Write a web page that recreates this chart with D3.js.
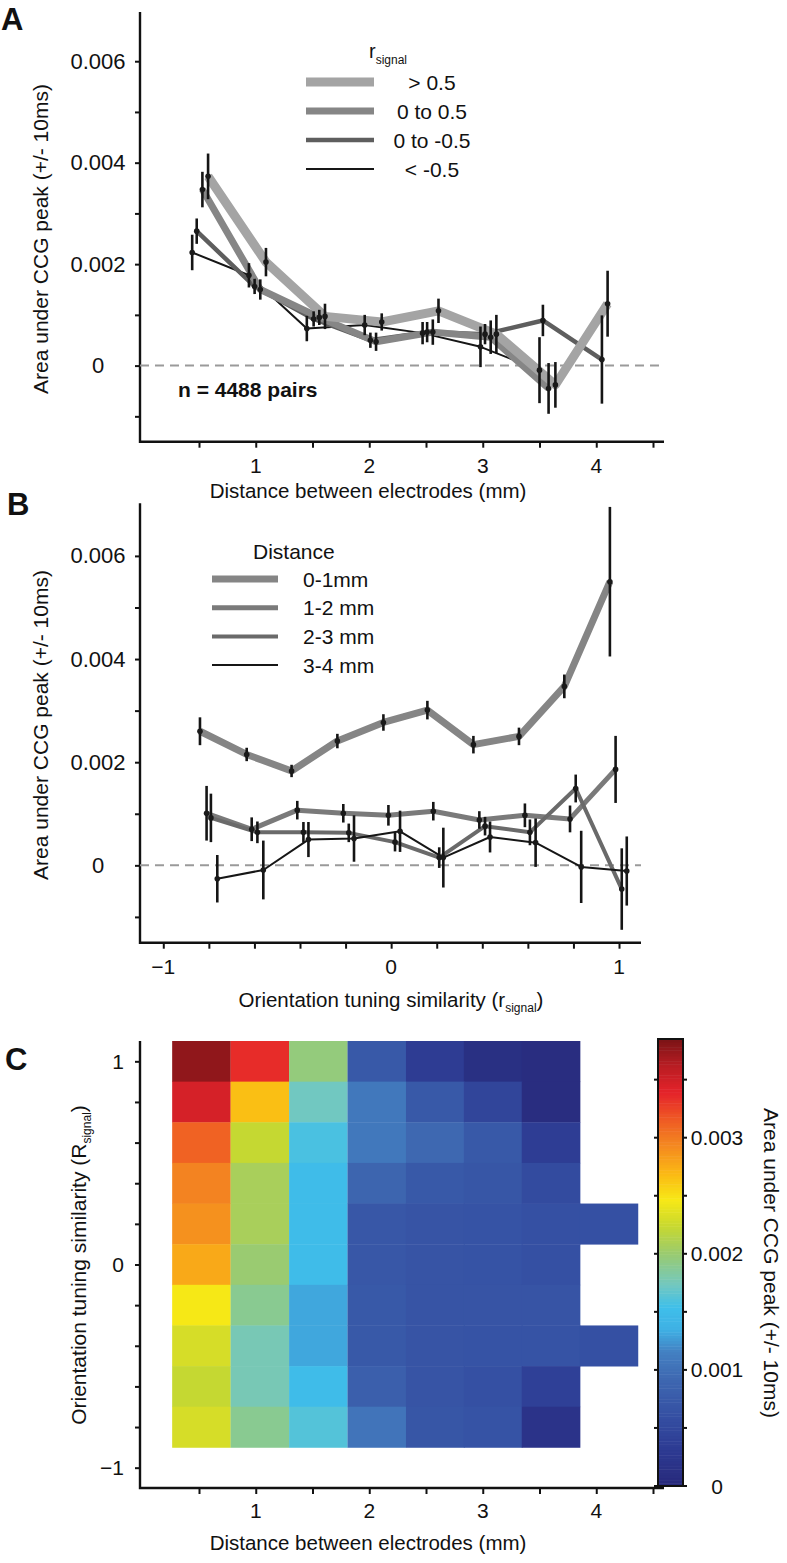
<!DOCTYPE html>
<html><head><meta charset="utf-8">
<script src="https://cdn.jsdelivr.net/npm/d3@7"></script>
<style>
body{margin:0;background:#fff}
svg text{font-family:"Liberation Sans",Arial,Helvetica,sans-serif;fill:#111}
</style>
</head><body>
<svg id="c" width="787" height="1563"></svg>
<script>
// ================= DATA =================
// Panel A: area under CCG peak vs distance, by r_signal group (values x1e-3)
const legendA = ["> 0.5", "0 to 0.5", "0 to -0.5", "< -0.5"];
const aGt05X = [0.58, 1.09, 1.61, 2.11, 2.61, 3.12, 3.64, 4.10];
const aGt05Y = [3.73, 2.04, 0.97, 0.86, 1.08, 0.62, -0.38, 1.22];
const aGt05E = [0.45, 0.28, 0.25, 0.17, 0.24, 0.38, 0.45, 0.65];
const a0to05X = [0.53, 1.04, 1.56, 2.06, 2.56, 3.07, 3.58];
const a0to05Y = [3.47, 1.50, 0.95, 0.47, 0.66, 0.56, -0.45];
const a0to05E = [0.35, 0.20, 0.15, 0.18, 0.25, 0.33, 0.50];
const a0toM05X = [0.48, 0.99, 1.51, 2.01, 2.51, 3.02, 3.53, 4.05];
const a0toM05Y = [2.65, 1.56, 0.92, 0.50, 0.66, 0.62, 0.89, 0.12];
const a0toM05E = [0.25, 0.15, 0.15, 0.15, 0.20, 0.20, 0.31, 0.87];
const aLtM05X = [0.44, 0.94, 1.45, 1.96, 2.47, 2.98, 3.50];
const aLtM05Y = [2.23, 1.78, 0.73, 0.80, 0.64, 0.37, -0.09];
const aLtM05E = [0.35, 0.24, 0.25, 0.20, 0.22, 0.40, 0.65];

// Panel B: area under CCG peak vs r_signal, by distance group (values x1e-3)
const legendB = ["0-1mm", "1-2 mm", "2-3 mm", "3-4 mm"];
const b01X = [-0.839, -0.634, -0.437, -0.236, -0.034, 0.159, 0.361, 0.561, 0.760, 0.960];
const b01Y = [2.60, 2.15, 1.83, 2.41, 2.77, 3.01, 2.34, 2.50, 3.47, 5.50];
const b01E = [0.27, 0.13, 0.12, 0.14, 0.16, 0.18, 0.17, 0.17, 0.23, 1.45];
const b12X = [-0.810, -0.612, -0.412, -0.210, -0.012, 0.185, 0.387, 0.587, 0.785, 0.985];
const b12Y = [1.01, 0.70, 1.07, 1.01, 0.97, 1.05, 0.88, 0.97, 0.90, 1.86];
const b12E = [0.53, 0.23, 0.18, 0.18, 0.20, 0.18, 0.17, 0.23, 0.26, 0.65];
const b23X = [-0.791, -0.587, -0.385, -0.186, 0.017, 0.211, 0.412, 0.609, 0.810, 1.012];
const b23Y = [0.92, 0.64, 0.64, 0.63, 0.45, 0.15, 0.76, 0.64, 1.49, -0.46];
const b23E = [0.47, 0.21, 0.20, 0.18, 0.18, 0.20, 0.18, 0.25, 0.27, 0.79];
const b34X = [-0.763, -0.561, -0.363, -0.163, 0.039, 0.229, 0.434, 0.634, 0.834, 1.034];
const b34Y = [-0.26, -0.09, 0.50, 0.52, 0.66, 0.15, 0.55, 0.44, -0.03, -0.11];
const b34E = [0.46, 0.57, 0.34, 0.45, 0.40, 0.58, 0.30, 0.47, 0.70, 0.67];

// Panel C: heatmap (rows = r_signal bins, cols = distance bins), values x1e-3
const cDist = [0.52, 1.035, 1.55, 2.065, 2.58, 3.09, 3.60, 4.11];
const cRsig = [1.0, 0.8, 0.6, 0.4, 0.2, 0.0, -0.2, -0.4, -0.6, -0.8];
const cValues = [
  [3.77, 3.35, 1.96, 0.73, 0.33, 0.12, 0.08, null],
  [3.47, 2.66, 1.73, 1.08, 0.73, 0.46, 0.08, null],
  [3.12, 2.23, 1.58, 1.08, 0.92, 0.73, 0.35, null],
  [2.96, 2.08, 1.50, 0.89, 0.73, 0.69, 0.54, null],
  [2.89, 2.08, 1.50, 0.71, 0.67, 0.65, 0.62, 0.62],
  [2.77, 2.00, 1.50, 0.71, 0.67, 0.65, 0.62, null],
  [2.46, 1.89, 1.31, 0.73, 0.67, 0.67, 0.67, null],
  [2.31, 1.77, 1.31, 0.73, 0.67, 0.65, 0.65, 0.62],
  [2.23, 1.77, 1.50, 0.81, 0.67, 0.62, 0.39, null],
  [2.31, 1.89, 1.62, 1.04, 0.69, 0.65, 0.19, null]
];
const colorbarMax = 3.85; // x1e-3

// Tick labels
const yTicksAB = [0, 2, 4, 6];            // x1e-3, labelled
const yTickLabelsAB = ["0", "0.002", "0.004", "0.006"];
const xTicksDist = [1, 2, 3, 4];
const xTicksR = [-1, 0, 1];
const xTickLabelsR = ["\u22121", "0", "1"];
const yTicksC = [-1, 0, 1];
const yTickLabelsC = ["\u22121", "0", "1"];
const cbTicks = [0, 1, 2, 3];
const cbTickLabels = ["0", "0.001", "0.002", "0.003"];

// ================= STYLES =================
const stylesA = [
  {c: "#a4a4a4", w: 9},
  {c: "#868686", w: 7},
  {c: "#5e5e5e", w: 4.5},
  {c: "#161616", w: 2}
];
const stylesB = [
  {c: "#858585", w: 7},
  {c: "#7a7a7a", w: 5},
  {c: "#6a6a6a", w: 4},
  {c: "#161616", w: 2}
];
// jet-like map sampled from the printed colorbar
const cmapStops = [
  [0.00, "#27297a"], [0.08, "#2d3a92"], [0.16, "#3550a3"], [0.24, "#3e68b1"],
  [0.30, "#4380c2"], [0.35, "#3fb0e4"], [0.40, "#3fbfea"], [0.45, "#72c8c0"],
  [0.52, "#9acb70"], [0.58, "#c6d831"], [0.64, "#f7e816"], [0.70, "#fbb814"],
  [0.76, "#f48a20"], [0.82, "#ef5a24"], [0.88, "#e5232a"], [0.94, "#b91d23"],
  [1.00, "#7a1416"]
];

const svg = d3.select("#c");
const FS = 21;
const zip = (X, Y, E) => X.map((x, i) => ({x: x, y: Y[i] / 1000, e: E[i] / 1000}));

// ================= PANEL A =================
const xA = d3.scaleLinear().domain([0, 4.6]).range([142.25, 664.35]);
const yA = d3.scaleLinear().domain([-0.0015, 0.00697]).range([441.7, 12]);
const gA = svg.append("g");

function drawAxesLineChart(g, x, y, xLeft, xRight, yTop, yBottom, xTickVals, xLabelVals, xLabelTexts) {
  const yAx = d3.axisLeft(y).tickValues(d3.range(-0.001, 0.00601, 0.001)).tickSize(5).tickFormat("");
  g.append("g").attr("transform", `translate(${xLeft},0)`).call(yAx)
    .call(s => s.select(".domain").remove())
    .call(s => s.selectAll("line").attr("stroke", "#111").attr("stroke-width", 2));
  yTicksAB.forEach((v, i) => {
    g.append("text").attr("x", 98).attr("y", y(v / 1000) + 7.5)
      .attr("text-anchor", "middle").attr("font-size", 22).text(yTickLabelsAB[i]);
  });
  const xAx = d3.axisBottom(x).tickValues(xTickVals).tickSize(6).tickFormat("");
  g.append("g").attr("transform", `translate(0,${yBottom})`).call(xAx)
    .call(s => s.select(".domain").remove())
    .call(s => s.selectAll("line").attr("stroke", "#111").attr("stroke-width", 2));
  xLabelVals.forEach((v, i) => {
    g.append("text").attr("x", x(v)).attr("y", yBottom + 31)
      .attr("text-anchor", "middle").attr("font-size", FS).text(xLabelTexts[i]);
  });
  g.append("path").attr("d", `M${xLeft},${yTop}V${yBottom}H${xRight}`)
    .attr("fill", "none").attr("stroke", "#111").attr("stroke-width", 2.4);
}

drawAxesLineChart(gA, xA, yA, 140, 664, 12, 441.7,
  d3.range(0.5, 4.51, 0.5), xTicksDist, xTicksDist.map(String));

gA.append("line").attr("x1", 140).attr("x2", 664).attr("y1", yA(0)).attr("y2", yA(0))
  .attr("stroke", "#9a9a9a").attr("stroke-width", 2).attr("stroke-dasharray", "9,6");

const seriesA = [
  zip(aGt05X, aGt05Y, aGt05E),
  zip(a0to05X, a0to05Y, a0to05E),
  zip(a0toM05X, a0toM05Y, a0toM05E),
  zip(aLtM05X, aLtM05Y, aLtM05E)
];

function drawBarsDots(g, x, y, series) {
  series.forEach(s => {
    g.selectAll(null).data(s).enter().append("line")
      .attr("x1", d => x(d.x)).attr("x2", d => x(d.x))
      .attr("y1", d => y(d.y - d.e)).attr("y2", d => y(d.y + d.e))
      .attr("stroke", "#151515").attr("stroke-width", 2.6);
  });
  series.forEach(s => {
    g.selectAll(null).data(s).enter().append("circle")
      .attr("cx", d => x(d.x)).attr("cy", d => y(d.y)).attr("r", 2.8).attr("fill", "#1a1a1a");
  });
}
function drawLines(g, x, y, series, styles, order) {
  const line = d3.line().x(d => x(d.x)).y(d => y(d.y));
  order.forEach(i => {
    g.append("path").datum(series[i]).attr("d", line)
      .attr("fill", "none").attr("stroke", styles[i].c).attr("stroke-width", styles[i].w)
      .attr("stroke-linejoin", "round");
  });
}
drawLines(gA, xA, yA, seriesA, stylesA, [3, 2, 1, 0]);
drawBarsDots(gA, xA, yA, seriesA);

// Legend A
const legA = gA.append("g");
legA.append("text").attr("x", 369).attr("y", 58).attr("font-size", 20)
  .text("r").append("tspan").attr("font-size", 12).attr("dy", 6).text("signal");
legendA.forEach((t, i) => {
  const ly = 82 + i * 29;
  legA.append("line").attr("x1", 306).attr("x2", 374).attr("y1", ly).attr("y2", ly)
    .attr("stroke", stylesA[i].c).attr("stroke-width", stylesA[i].w);
  legA.append("text").attr("x", 432).attr("y", ly + 7.5).attr("text-anchor", "middle")
    .attr("font-size", FS).text(t);
});
gA.append("text").attr("x", 178).attr("y", 397).attr("font-size", FS).attr("font-weight", "bold")
  .text("n = 4488 pairs");
gA.append("text").attr("x", 368).attr("y", 498).attr("text-anchor", "middle").attr("font-size", 20.5)
  .text("Distance between electrodes (mm)");
gA.append("text").attr("transform", "translate(47.5,239) rotate(-90)").attr("text-anchor", "middle")
  .attr("font-size", FS).text("Area under CCG peak (+/- 10ms)");
gA.append("text").attr("x", 1).attr("y", 30).attr("font-size", 31).attr("font-weight", "bold").text("A");

// ================= PANEL B =================
const xB = d3.scaleLinear().domain([-1.1, 1.1]).range([140.5, 641.8]);
const yB = d3.scaleLinear().domain([-0.0015, 0.00702]).range([942.7, 503.3]);
const gB = svg.append("g");
drawAxesLineChart(gB, xB, yB, 140, 641, 503.3, 942.7,
  d3.range(-1, 1.001, 0.2), xTicksR, xTickLabelsR);
gB.append("line").attr("x1", 140).attr("x2", 641).attr("y1", yB(0)).attr("y2", yB(0))
  .attr("stroke", "#9a9a9a").attr("stroke-width", 2).attr("stroke-dasharray", "9,6");
const seriesB = [
  zip(b01X, b01Y, b01E),
  zip(b12X, b12Y, b12E),
  zip(b23X, b23Y, b23E),
  zip(b34X, b34Y, b34E)
];
drawLines(gB, xB, yB, seriesB, stylesB, [0, 1, 2, 3]);
drawBarsDots(gB, xB, yB, seriesB);
const legB = gB.append("g");
legB.append("text").attr("x", 253).attr("y", 559).attr("font-size", FS).text("Distance");
legendB.forEach((t, i) => {
  const ly = 579 + i * 28.7;
  legB.append("line").attr("x1", 212).attr("x2", 278).attr("y1", ly).attr("y2", ly)
    .attr("stroke", stylesB[i].c).attr("stroke-width", stylesB[i].w);
  legB.append("text").attr("x", 303).attr("y", ly + 7.5).attr("font-size", FS).text(t);
});
const tB = gB.append("text").attr("x", 391).attr("y", 1007).attr("text-anchor", "middle").attr("font-size", 20.5);
tB.append("tspan").text("Orientation tuning similarity (r");
tB.append("tspan").attr("font-size", 12).attr("dy", 5).text("signal");
tB.append("tspan").attr("dy", -5).text(")");
gB.append("text").attr("transform", "translate(47.5,725) rotate(-90)").attr("text-anchor", "middle")
  .attr("font-size", FS).text("Area under CCG peak (+/- 10ms)");
gB.append("text").attr("x", 7).attr("y", 515).attr("font-size", 31).attr("font-weight", "bold").text("B");

// ================= PANEL C =================
const xC = xA.copy();
const yC = d3.scaleLinear().domain([-1.1, 1.1]).range([1488, 1041]);
const gC = svg.append("g");
const vmax = colorbarMax / 1000;
const cmap = d3.scaleLinear().domain(cmapStops.map(s => s[0] * vmax)).range(cmapStops.map(s => s[1]))
  .interpolate(d3.interpolateRgb).clamp(true);
const colW = (cDist[cDist.length - 1] - cDist[0]) / (cDist.length - 1);
const rowH = Math.abs(cRsig[0] - cRsig[1]);
const cells = [];
cValues.forEach((row, ri) => row.forEach((v, ci) => {
  if (v !== null) cells.push({r: cRsig[ri], d: cDist[ci], v: v / 1000});
}));
gC.selectAll("rect.cell").data(cells).enter().append("rect").attr("class", "cell")
  .attr("x", d => xC(d.d - colW / 2)).attr("y", d => yC(d.r + rowH / 2))
  .attr("width", d => xC(d.d + colW / 2) - xC(d.d - colW / 2) + 0.4)
  .attr("height", d => yC(d.r - rowH / 2) - yC(d.r + rowH / 2) + 0.4)
  .attr("fill", d => cmap(d.v));

// axes C
const yAxC = d3.axisLeft(yC).tickValues(d3.range(-1, 1.001, 0.2)).tickSize(5).tickFormat("");
gC.append("g").attr("transform", "translate(140,0)").call(yAxC)
  .call(s => s.select(".domain").remove())
  .call(s => s.selectAll("line").attr("stroke", "#111").attr("stroke-width", 2));
yTicksC.forEach((v, i) => {
  gC.append("text").attr("x", 124).attr("y", yC(v) + 7.5).attr("text-anchor", "end")
    .attr("font-size", FS).text(yTickLabelsC[i]);
});
const xAxC = d3.axisBottom(xC).tickValues(d3.range(0.5, 4.51, 0.5)).tickSize(6).tickFormat("");
gC.append("g").attr("transform", "translate(0,1488)").call(xAxC)
  .call(s => s.select(".domain").remove())
  .call(s => s.selectAll("line").attr("stroke", "#111").attr("stroke-width", 2));
xTicksDist.forEach(v => {
  gC.append("text").attr("x", xC(v)).attr("y", 1518).attr("text-anchor", "middle")
    .attr("font-size", FS).text(String(v));
});
gC.append("path").attr("d", "M140,1041V1488H664").attr("fill", "none")
  .attr("stroke", "#111").attr("stroke-width", 2.4);
gC.append("text").attr("x", 368).attr("y", 1550).attr("text-anchor", "middle").attr("font-size", 20.5)
  .text("Distance between electrodes (mm)");
const tC = gC.append("text").attr("transform", "translate(85.5,1265) rotate(-90)")
  .attr("text-anchor", "middle").attr("font-size", FS);
tC.append("tspan").text("Orientation tuning similarity (R");
tC.append("tspan").attr("font-size", 12).attr("dy", 5).text("signal");
tC.append("tspan").attr("dy", -5).text(")");
gC.append("text").attr("x", 5).attr("y", 1070).attr("font-size", 31).attr("font-weight", "bold").text("C");

// colorbar
const cb = d3.scaleLinear().domain([0, vmax]).range([1486, 1039]);
const cbX = 658, cbW = 25;
const nSteps = 160;
const steps = d3.range(0, nSteps).map(i => i / nSteps * vmax);
gC.selectAll("rect.cb").data(steps).enter().append("rect").attr("class", "cb")
  .attr("x", cbX).attr("width", cbW)
  .attr("y", d => cb(d + vmax / nSteps)).attr("height", d => cb(d) - cb(d + vmax / nSteps) + 0.5)
  .attr("fill", d => cmap(d + vmax / (2 * nSteps)));
gC.append("rect").attr("x", cbX).attr("y", cb(vmax)).attr("width", cbW).attr("height", cb(0) - cb(vmax))
  .attr("fill", "none").attr("stroke", "#111").attr("stroke-width", 2);
const cbTickVals = d3.range(0, 0.00351, 0.0005);
gC.selectAll("line.cbt").data(cbTickVals).enter().append("line")
  .attr("x1", cbX - 4).attr("x2", cbX).attr("y1", d => cb(d)).attr("y2", d => cb(d))
  .attr("stroke", "#111").attr("stroke-width", 2);
gC.selectAll("line.cbt2").data(cbTickVals).enter().append("line")
  .attr("x1", cbX + cbW).attr("x2", cbX + cbW + 4).attr("y1", d => cb(d)).attr("y2", d => cb(d))
  .attr("stroke", "#111").attr("stroke-width", 2);
cbTicks.forEach((v, i) => {
  gC.append("text").attr("x", 717).attr("y", cb(v / 1000) + 7.5).attr("text-anchor", "middle")
    .attr("font-size", FS).text(cbTickLabels[i]);
});
gC.append("text").attr("transform", "translate(764,1263) rotate(90)").attr("text-anchor", "middle")
  .attr("font-size", FS).text("Area under CCG peak (+/- 10ms)");
</script>
</body></html>
